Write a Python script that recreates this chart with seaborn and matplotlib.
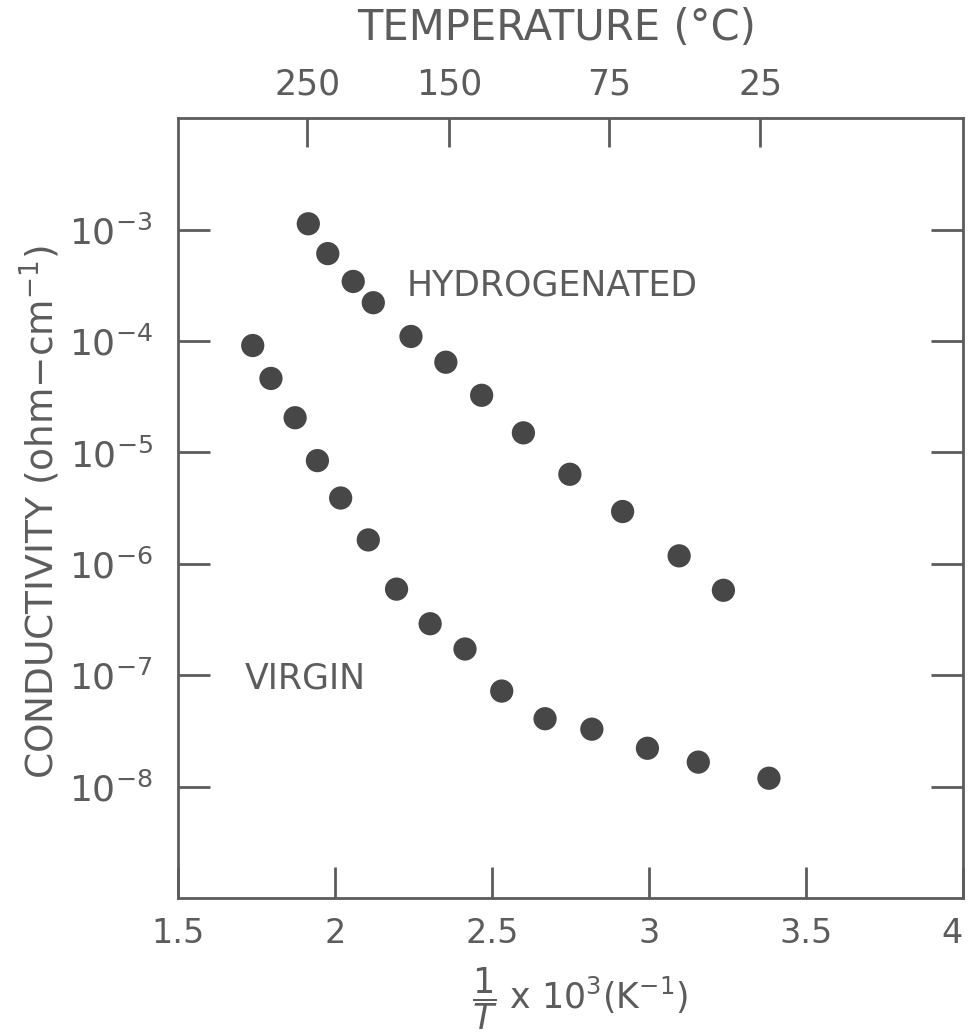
import numpy as np
import pandas as pd
import matplotlib
matplotlib.use("Agg")
import matplotlib.pyplot as plt
import seaborn as sns

# ---- data ----
hyd_inv_T = [1.915, 1.977, 2.058, 2.122, 2.242, 2.353, 2.467, 2.600, 2.748, 2.916, 3.096, 3.237]
hyd_sigma = [1.13e-3, 6.1e-4, 3.43e-4, 2.21e-4, 1.10e-4, 6.46e-5, 3.26e-5, 1.50e-5,
             6.37e-6, 2.95e-6, 1.18e-6, 5.79e-7]
vir_inv_T = [1.738, 1.796, 1.873, 1.944, 2.018, 2.106, 2.196, 2.303, 2.414, 2.531,
             2.669, 2.818, 2.995, 3.157, 3.382]
vir_sigma = [9.12e-5, 4.62e-5, 2.05e-5, 8.45e-6, 3.90e-6, 1.64e-6, 5.93e-7, 2.90e-7,
             1.72e-7, 7.21e-8, 4.07e-8, 3.28e-8, 2.21e-8, 1.66e-8, 1.19e-8]

x_ticks = [1.5, 2, 2.5, 3, 3.5, 4]
x_tick_labels = ["1.5", "2", "2.5", "3", "3.5", "4"]
y_ticks = [1e-8, 1e-7, 1e-6, 1e-5, 1e-4, 1e-3]
temp_ticks_C = [250, 150, 75, 25]

df = pd.DataFrame({
    "invT": hyd_inv_T + vir_inv_T,
    "sigma": hyd_sigma + vir_sigma,
    "sample": ["HYDROGENATED"] * len(hyd_inv_T) + ["VIRGIN"] * len(vir_inv_T),
})

sns.set_theme(style="white")
plt.rcParams["font.family"] = ["DejaVu Sans"]
plt.rcParams["mathtext.fontset"] = "dejavusans"

INK = "#5c5c5c"
DOT = "#474747"

fig = plt.figure(figsize=(9.69, 10.34), dpi=100)
ax = fig.add_axes([0.1837, 0.1315, 0.9938 - 0.1837, 0.8856 - 0.1315])

sns.scatterplot(data=df, x="invT", y="sigma", hue="sample",
                palette={"HYDROGENATED": DOT, "VIRGIN": DOT},
                s=280, linewidth=0, legend=False, ax=ax)

ax.set_yscale("log")
ax.set_xlim(1.5, 4)
ax.set_ylim(1e-9, 1e-2)
ax.set_xticks(x_ticks)
ax.set_xticklabels(x_tick_labels)
ax.set_yticks(y_ticks)
ax.yaxis.set_minor_locator(matplotlib.ticker.NullLocator())
ax.yaxis.set_major_formatter(matplotlib.ticker.LogFormatterMathtext())
ax.set_xlabel("")
ax.set_ylabel("")

for sp in ax.spines.values():
    sp.set_color(INK)
    sp.set_linewidth(2.0)

ax.tick_params(axis="x", which="major", direction="in", length=22, width=2,
               color=INK, labelcolor=INK, labelsize=24, pad=14, bottom=True, top=False)
ax.tick_params(axis="y", which="major", direction="in", length=23, width=2,
               color=INK, labelcolor=INK, labelsize=26, pad=18,
               left=True, right=True, labelright=False)
# keep the last bottom label ("4") inside the figure
ax.get_xticklabels()[-1].set_horizontalalignment("right")

# top temperature axis
ax2 = ax.twiny()
ax2.set_xlim(ax.get_xlim())
ax2.set_xticks([1000.0 / (t + 273.15) for t in temp_ticks_C])
ax2.set_xticklabels([str(t) for t in temp_ticks_C])
ax2.tick_params(axis="x", direction="in", length=21, width=2, color=INK,
                labelcolor=INK, labelsize=25, pad=12)
for sp in ax2.spines.values():
    sp.set_visible(False)
ax2.grid(False)

ax.text(2.229, 3.15e-4, "HYDROGENATED", fontsize=25, color=INK, ha="left", va="center")
ax.text(1.713, 9.3e-8, "VIRGIN", fontsize=25, color=INK, ha="left", va="center")

fig.text(0.574, 0.973, "TEMPERATURE (°C)", fontsize=30, color=INK, ha="center", va="center")
fig.text(0.599, 0.034, r"$\dfrac{1}{T}$ x 10$^{3}$(K$^{-1}$)", fontsize=25, color=INK,
         ha="center", va="center")
fig.text(0.041, 0.505, r"CONDUCTIVITY (ohm$-$cm$^{-1}$)", fontsize=27, color=INK,
         ha="center", va="center", rotation=90)

fig.savefig("out.png", dpi=100)
